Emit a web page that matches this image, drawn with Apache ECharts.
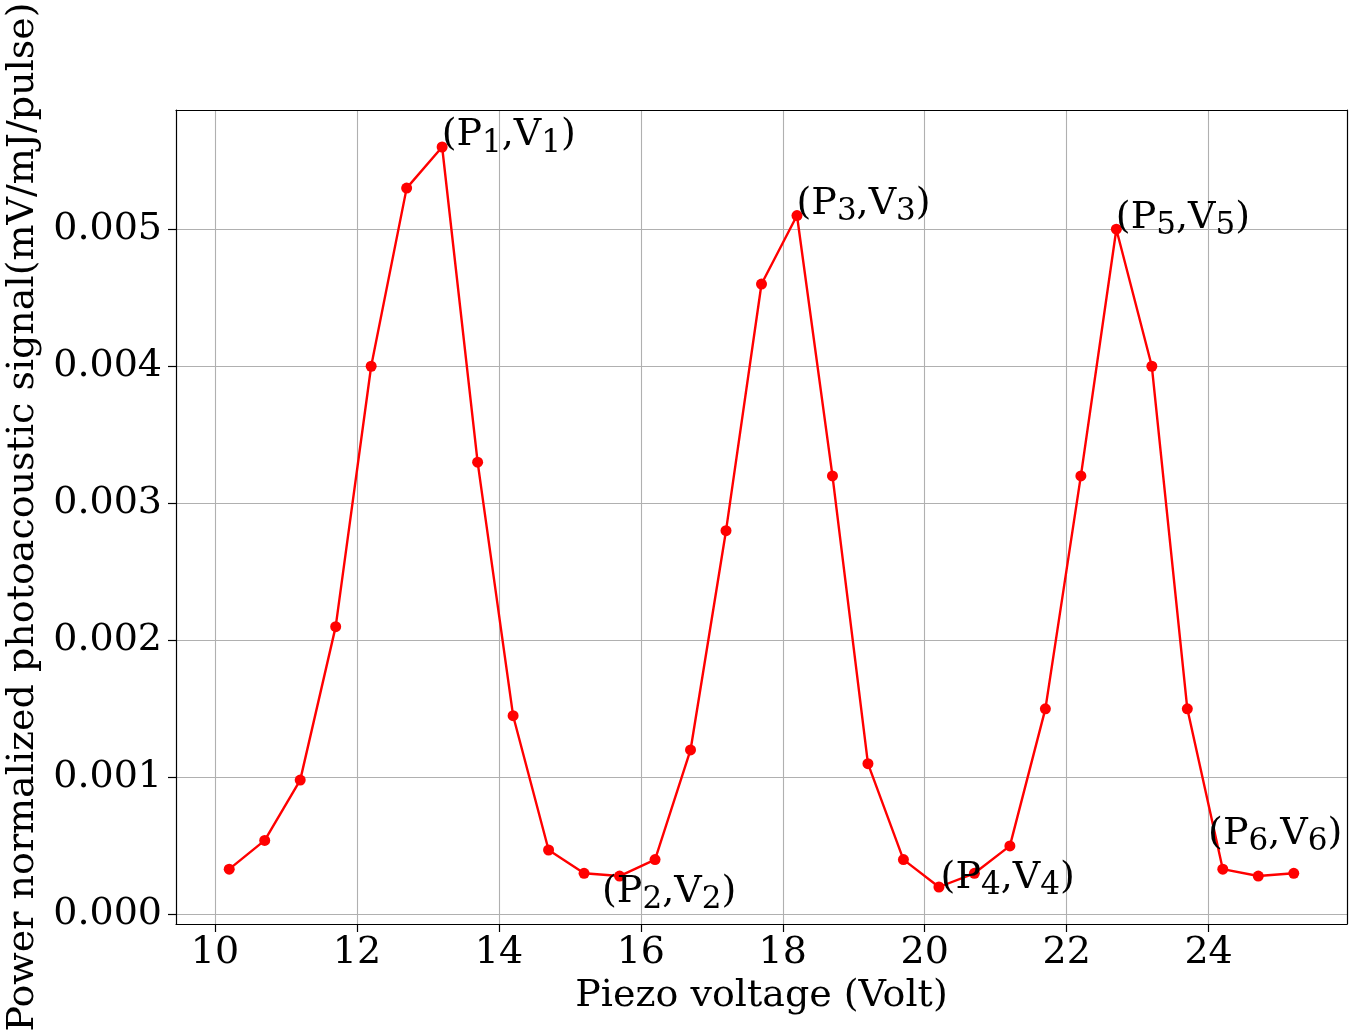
<!DOCTYPE html>
<html><head><meta charset="utf-8">
<script src="https://cdn.jsdelivr.net/npm/echarts@6/dist/echarts.min.js"></script>
<style>html,body{margin:0;padding:0;background:#fff}#c{width:1363px;height:1036px}</style>
</head><body><div id="c"></div>
<script>
const voltage = [10.2,10.7,11.2,11.7,12.2,12.7,13.2,13.7,14.2,14.7,15.2,15.7,16.2,16.7,17.2,17.7,18.2,18.7,19.2,19.7,20.2,20.7,21.2,21.7,22.2,22.7,23.2,23.7,24.2,24.7,25.2];
const signal = [0.00033,0.00054,0.00098,0.0021,0.0040,0.0053,0.0056,0.0033,0.00145,0.00047,0.00030,0.00028,0.00040,0.0012,0.0028,0.0046,0.0051,0.0032,0.0011,0.00040,0.00020,0.00030,0.00050,0.0015,0.0032,0.0050,0.0040,0.0015,0.00033,0.00028,0.00030];
const xTicks = [10,12,14,16,18,20,22,24];
const yTicks = [0,0.001,0.002,0.003,0.004,0.005];
const annotX = [13.2,15.46,18.2,20.23,22.7,24.0];
const annotY = [0.0056,0.00008,0.0051,0.00018,0.005,0.0005];
const annotIdx = ['1','2','3','4','5','6'];
const xTitle = 'Piezo voltage (Volt)';
const yTitle = 'Power normalized photoacoustic signal(mV/mJ/pulse)';

const FONT = 'DejaVu Serif';
const chart = echarts.init(document.getElementById('c'), null, {renderer: 'canvas'});
const lineData = voltage.map((v, i) => [v, signal[i]]);
const annData = annotX.map((v, i) => ({value: [v, annotY[i]], idx: annotIdx[i]}));

const frameAxis = {
  show: true, axisLine: {show: true, onZero: false, lineStyle: {color: '#000', width: 1.2}},
  axisTick: {show: false}, axisLabel: {show: false}, splitLine: {show: false}
};

chart.setOption({
  animation: false,
  backgroundColor: '#fff',
  grid: {left: 176, top: 110, right: 16, bottom: 112, containLabel: false, outerBoundsMode: 'none', show: false},
  xAxis: [{
    type: 'value', min: 9.45, max: 25.95, minInterval: 2, maxInterval: 2,
    position: 'bottom',
    name: xTitle, nameLocation: 'middle', nameGap: 53,
    nameTextStyle: {fontFamily: FONT, fontSize: 38, color: '#000'},
    axisLine: {show: true, onZero: false, lineStyle: {color: '#000', width: 1.2}},
    axisTick: {show: true, customValues: xTicks, length: 8, lineStyle: {color: '#000', width: 1.2}},
    axisLabel: {show: true, customValues: xTicks, margin: 10, fontFamily: FONT, fontSize: 38, color: '#000',
      formatter: v => String(v)},
    splitLine: {show: true, lineStyle: {color: '#b0b0b0', width: 1.1}}
  }, Object.assign({type: 'value', min: 9.45, max: 25.95, position: 'top'}, frameAxis)],
  yAxis: [{
    type: 'value', min: -0.00007, max: 0.00587, minInterval: 0.001, maxInterval: 0.001,
    position: 'left',
    name: yTitle, nameLocation: 'middle', nameGap: 125,
    nameTextStyle: {fontFamily: FONT, fontSize: 38, color: '#000'},
    axisLine: {show: true, onZero: false, lineStyle: {color: '#000', width: 1.2}},
    axisTick: {show: true, customValues: yTicks, length: 8, lineStyle: {color: '#000', width: 1.2}},
    axisLabel: {show: true, customValues: yTicks, margin: 14, fontFamily: FONT, fontSize: 38, color: '#000',
      formatter: v => v.toFixed(3)},
    splitLine: {show: true, lineStyle: {color: '#b0b0b0', width: 1.1}}
  }, Object.assign({type: 'value', min: -0.00007, max: 0.00587, position: 'right'}, frameAxis)],
  series: [{
    type: 'line', data: lineData, xAxisIndex: 0, yAxisIndex: 0,
    symbol: 'circle', symbolSize: 11, showSymbol: true,
    lineStyle: {color: '#ff0000', width: 2.4},
    itemStyle: {color: '#ff0000'},
    z: 3, silent: true
  }, {
    type: 'scatter', data: annData, xAxisIndex: 0, yAxisIndex: 0,
    symbolSize: 1, itemStyle: {color: 'rgba(0,0,0,0)'}, silent: true, z: 5,
    label: {
      show: true, position: [0, 0], align: 'left', verticalAlign: 'middle', offset: [0, -11],
      color: '#000', opacity: 1, textBorderWidth: 0,
      formatter: p => '{m|(P}{s|' + p.data.idx + '}{m|,V}{s|' + p.data.idx + '}{m|)}',
      rich: {
        m: {fontFamily: FONT, fontSize: 38, color: '#000', lineHeight: 46, opacity: 1},
        s: {fontFamily: FONT, fontSize: 31, color: '#000', lineHeight: 46, opacity: 1, padding: [16, 0, 0, 0]}
      }
    }
  }]
});
</script>
</body></html>
